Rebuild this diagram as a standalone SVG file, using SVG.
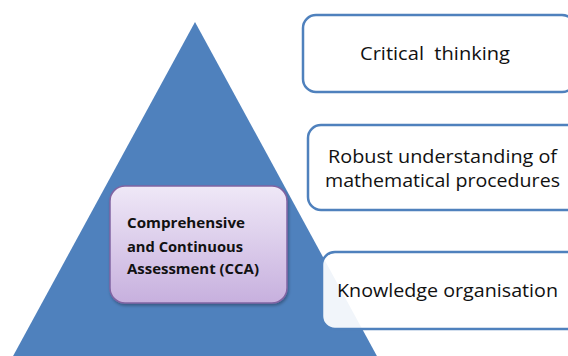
<svg xmlns="http://www.w3.org/2000/svg" width="568" height="356" viewBox="0 0 568 356">
<defs>
<linearGradient id="pg" x1="0" y1="0" x2="0" y2="1">
<stop offset="0" stop-color="#efe8f7"/>
<stop offset="1" stop-color="#c7b0de"/>
</linearGradient>
<filter id="sh" x="-10%" y="-10%" width="130%" height="130%">
<feDropShadow dx="1" dy="2" stdDeviation="1.5" flood-color="#000" flood-opacity="0.3"/>
</filter>
</defs>
<style>
.box{fill:#ffffff;fill-opacity:0.92;stroke:#4f81bd;stroke-width:2.5}
.t{font-family:"Open Sans","Lato",sans-serif;font-size:19px;fill:#111;text-anchor:start}
.t2{font-family:"Open Sans","Lato",sans-serif;font-size:17.5px;fill:#111;text-anchor:start}
.b{font-family:"Open Sans","Lato",sans-serif;font-size:14px;font-weight:bold;fill:#111}
</style>
<g id="pyramid">
<polygon points="195,22 12,358 378,358" fill="#4f81bd"/>
</g>
<g id="cca">
<rect x="110" y="186" width="177" height="117" rx="15" fill="url(#pg)" stroke="#8064a2" stroke-width="1.5" filter="url(#sh)"/>
<text class="b" x="127" y="228" textLength="118" lengthAdjust="spacingAndGlyphs">Comprehensive</text>
<text class="b" x="127" y="252" textLength="116" lengthAdjust="spacingAndGlyphs">and Continuous</text>
<text class="b" x="127" y="274" textLength="132" lengthAdjust="spacingAndGlyphs">Assessment (CCA)</text>
</g>
<g id="critical">
<rect class="box" x="303" y="15" width="272" height="77" rx="13"/>
<text class="t" x="360" y="60" textLength="150" lengthAdjust="spacingAndGlyphs" xml:space="preserve">Critical  thinking</text>
</g>
<g id="robust">
<rect class="box" x="308" y="125" width="272" height="85" rx="13"/>
<text class="t2" x="328" y="163" textLength="229" lengthAdjust="spacingAndGlyphs">Robust understanding of</text>
<text class="t2" x="325" y="187" textLength="235" lengthAdjust="spacingAndGlyphs">mathematical procedures</text>
</g>
<g id="knowledge">
<rect class="box" x="322" y="252" width="258" height="77" rx="13"/>
<text class="t" x="337" y="297" textLength="221" lengthAdjust="spacingAndGlyphs">Knowledge organisation</text>
</g>
<g id="connectors"/>
</svg>
